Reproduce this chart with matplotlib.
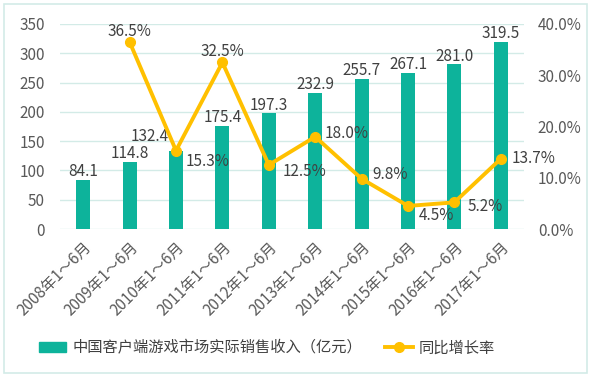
import numpy as np
import matplotlib.pyplot as plt
from matplotlib.patches import Rectangle

plt.rcParams['font.family'] = ['Noto Sans CJK SC', 'DejaVu Sans']

years = ['2008', '2009', '2010', '2011', '2012', '2013', '2014', '2015', '2016', '2017']
labels = [y + '年1～6月' for y in years]
revenue = [84.1, 114.8, 132.4, 175.4, 197.3, 232.9, 255.7, 267.1, 281.0, 319.5]
growth = [np.nan, 36.5, 15.3, 32.5, 12.5, 18.0, 9.8, 4.5, 5.2, 13.7]

bar_color = '#0db39b'
line_color = '#ffc000'
grid_color = '#d3ebe7'
text_color = '#404040'
tick_color = '#595959'

# offsets (points) for the growth labels: dx, dy, ha
growth_offsets = [None,
                  (0, 7.5, 'center'),
                  (7, -8, 'left'),
                  (0, 8, 'center'),
                  (10, -4.5, 'left'),
                  (6.5, 2, 'left'),
                  (8, 3, 'left'),
                  (8, -7, 'left'),
                  (9.5, -3, 'left'),
                  (8, 0, 'left')]

fig = plt.figure(figsize=(5.93, 3.79), dpi=100)
ax = fig.add_axes([60 / 593, 1 - 229 / 379, 464 / 593, 205 / 379])
x = np.arange(len(years))

ax.bar(x, revenue, width=0.3, color=bar_color, zorder=2)
ax.set_ylim(0, 350)
ax.set_xlim(-0.5, len(years) - 0.5)
ax.set_yticks(range(0, 351, 50))
ax.grid(axis='y', color=grid_color, linewidth=1, zorder=0)
for s in ax.spines.values():
    s.set_visible(False)
ax.tick_params(axis='y', length=0, labelsize=11, colors=tick_color, pad=11)
ax.set_xticks(x)
ax.set_xticklabels(labels, rotation=45, ha='right', rotation_mode='anchor')
ax.tick_params(axis='x', length=0, labelsize=11, colors=tick_color, pad=7)

for i, v in enumerate(revenue):
    dx, dy = (-19, 10.5) if i == 2 else (0, 6)
    ax.annotate(f'{v:.1f}', (x[i], v), xytext=(dx, dy), textcoords='offset points',
                ha='center', va='center', fontsize=11, color=text_color, zorder=5)

ax2 = ax.twinx()
ax2.plot(x, growth, color=line_color, linewidth=2.8, marker='o', markersize=7, zorder=3)
ax2.set_ylim(0, 40)
ax2.set_yticks(range(0, 41, 10))
ax2.set_yticklabels([f'{t:.1f}%' for t in range(0, 41, 10)])
for s in ax2.spines.values():
    s.set_visible(False)
ax2.tick_params(axis='y', length=0, labelsize=11, colors=tick_color, pad=10)

for i, g in enumerate(growth):
    if np.isnan(g):
        continue
    dx, dy, ha = growth_offsets[i]
    ax2.annotate(f'{g:.1f}%', (x[i], g), xytext=(dx, dy), textcoords='offset points',
                 ha=ha, va='center', fontsize=11, color=text_color)

h1 = Rectangle((0, 0), 1, 1, color=bar_color)
h2, = ax2.plot([], [], color=line_color, linewidth=2.8, marker='o', markersize=7)
fig.legend([h1, h2], ['中国客户端游戏市场实际销售收入（亿元）', '同比增长率'],
           loc='center', bbox_to_anchor=(0.45, 1 - 348 / 379), ncol=2, frameon=False,
           fontsize=11, handlelength=1.8, handleheight=0.55, handletextpad=0.4,
           columnspacing=1.5, labelcolor=text_color)

fig.patches.append(Rectangle((4 / 593, 6 / 379), 583 / 593, 369 / 379, transform=fig.transFigure,
                             fill=False, edgecolor=grid_color, linewidth=1.2))

fig.savefig('out.png', dpi=100)
